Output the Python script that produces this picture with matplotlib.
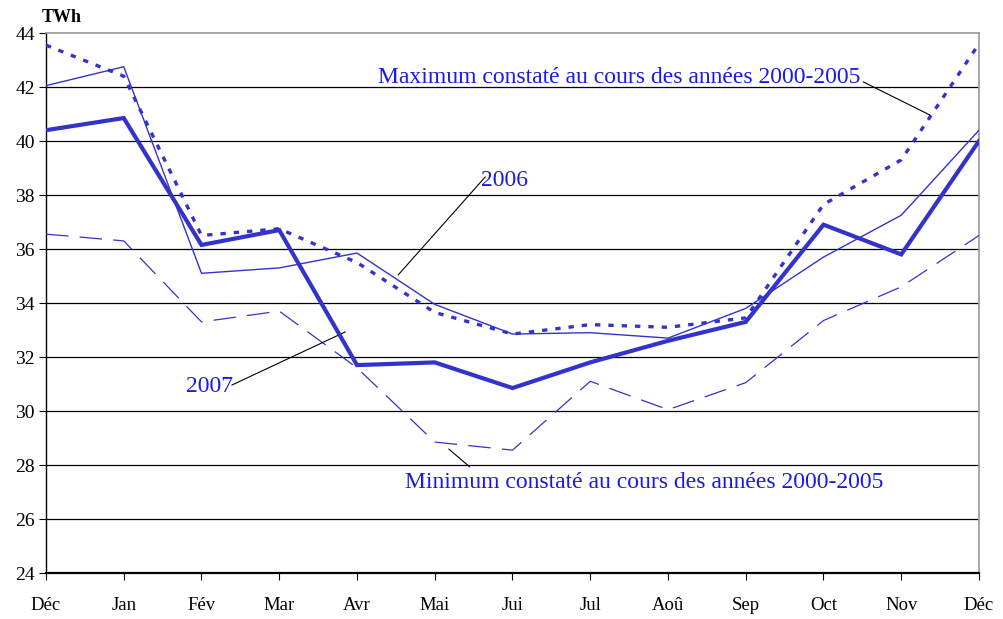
import matplotlib
matplotlib.use("Agg")
import matplotlib.pyplot as plt

months = ["Déc", "Jan", "Fév", "Mar", "Avr", "Mai", "Jui", "Jul", "Aoû", "Sep", "Oct", "Nov", "Déc"]
y2007 = [40.4, 40.85, 36.15, 36.7, 31.7, 31.8, 30.85, 31.8, 32.6, 33.3, 36.9, 35.8, 40.0]
y2006 = [42.05, 42.75, 35.1, 35.3, 35.85, 33.95, 32.85, 32.9, 32.7, 33.8, 35.7, 37.25, 40.4]
ymax = [43.55, 42.4, 36.5, 36.75, 35.5, 33.65, 32.85, 33.2, 33.1, 33.45, 37.65, 39.3, 43.6]
ymin = [36.55, 36.3, 33.3, 33.7, 31.6, 28.85, 28.55, 31.1, 30.05, 31.05, 33.35, 34.6, 36.5]
yticks = [24, 26, 28, 30, 32, 34, 36, 38, 40, 42, 44]

plt.rcParams['font.family'] = ['Liberation Serif', 'DejaVu Serif']
line_c = "#3333CC"
text_c = "#1a1ae6"

fig = plt.figure(figsize=(10.04, 6.19), dpi=100)
ax = fig.add_axes([46/1004, 1-573/619, (979-46)/1004, (573-33)/619])
x = list(range(len(months)))

for yv in yticks[1:-1]:
    ax.axhline(yv, color="black", lw=0.9, zorder=1)

ax.plot(x, ymin, color=line_c, lw=0.9, linestyle=(0, (18, 9)), zorder=3)
ax.plot(x, y2006, color=line_c, lw=1.0, zorder=3)
ax.plot(x, ymax, color=line_c, lw=2.4, linestyle=(0, (1.6, 2.4)), zorder=3)
ax.plot(x, y2007, color=line_c, lw=3.0, zorder=4, solid_joinstyle="miter")

ax.set_xlim(0, 12)
ax.set_ylim(24, 44)
ax.set_yticks(yticks)
ax.set_xticks(x)
ax.set_xticklabels(months, fontsize=13.5)
ax.tick_params(axis='x', direction='out', length=5, pad=12, width=0.8)
ax.tick_params(axis='y', direction='out', length=5, pad=3, width=0.8, labelsize=14)

for s in ["top", "right"]:
    ax.spines[s].set_color("#999999")
    ax.spines[s].set_linewidth(1.2)
ax.spines["left"].set_linewidth(1.0)
ax.spines["bottom"].set_linewidth(1.6)

fig.text(42/1004, 1-17/619, "TWh", fontsize=13, fontweight="bold", va="center", ha="left")

lkw = dict(arrowprops=dict(arrowstyle="-", color="black", lw=0.8, shrinkA=0, shrinkB=0),
           annotation_clip=False)
tkw = dict(color=text_c, fontsize=17, va="center")

ax.text(10.47, 42.36, "Maximum constaté au cours des années 2000-2005", ha="right", **tkw)
ax.annotate("", xy=(11.37, 40.96), xytext=(10.51, 42.19), **lkw)

ax.text(5.90, 38.52, "2006", ha="center", **tkw)
ax.annotate("", xy=(4.53, 35.04), xytext=(5.65, 38.67), **lkw)

ax.text(2.10, 30.90, "2007", ha="center", **tkw)
ax.annotate("", xy=(3.85, 32.93), xytext=(2.39, 30.96), **lkw)

ax.text(4.62, 27.36, "Minimum constaté au cours des années 2000-2005", ha="left", **tkw)
ax.annotate("", xy=(5.18, 28.59), xytext=(5.45, 27.93), **lkw)

fig.savefig("out.png", dpi=100)
